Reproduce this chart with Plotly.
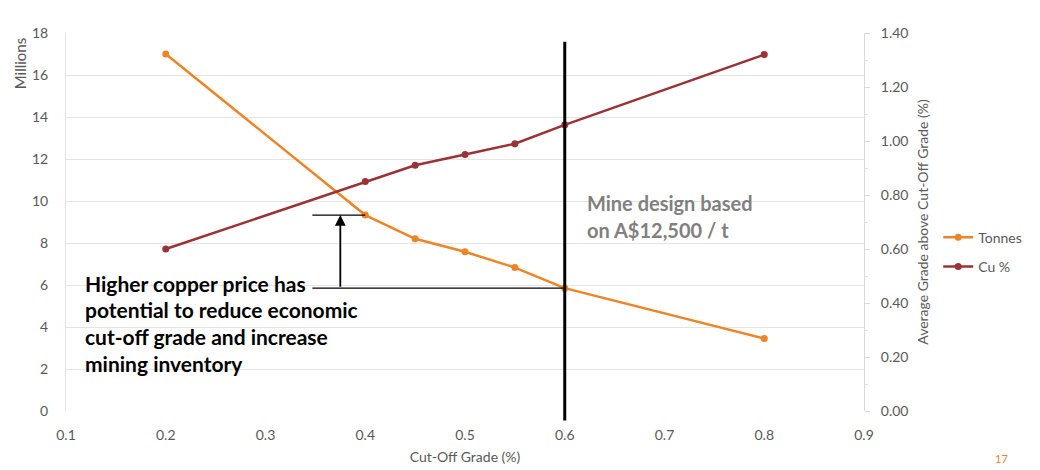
import plotly.graph_objects as go

# Cut-off grade sensitivity
cutoff = [0.2, 0.4, 0.45, 0.5, 0.55, 0.6, 0.8]
tonnes_m = [17.0, 9.33, 8.2, 7.58, 6.83, 5.85, 3.45]
cu_pct = [0.60, 0.85, 0.91, 0.95, 0.99, 1.06, 1.32]

design_cutoff = 0.6
arrow_x = 0.375
bracket_x0 = 0.347

x_ticks = [0.1, 0.2, 0.3, 0.4, 0.5, 0.6, 0.7, 0.8, 0.9]

note_lines = ["Higher copper price has", "potential to reduce economic",
              "cut-off grade and increase", "mining inventory"]
design_lines = ["Mine design based", "on A$12,500 / t"]

ORANGE = "#EE8426"
MAROON = "#9B3236"
TICK = "#595959"
FONT = "Lato"

fig = go.Figure()
fig.add_trace(go.Scatter(
    x=cutoff, y=tonnes_m, name="Tonnes", mode="lines+markers", legendgroup="t",
    line=dict(color=ORANGE, width=2.5), marker=dict(color=ORANGE, size=7),
    yaxis="y"))
fig.add_trace(go.Scatter(
    x=cutoff, y=cu_pct, name="Cu %", mode="lines+markers", legendgroup="c",
    line=dict(color=MAROON, width=2.5), marker=dict(color=MAROON, size=7),
    yaxis="y2"))

t_design = tonnes_m[cutoff.index(design_cutoff)]
t_lower = tonnes_m[cutoff.index(0.4)]

shapes = [
    # mine design cut-off
    dict(type="line", xref="x", yref="paper", x0=design_cutoff, x1=design_cutoff,
         y0=-0.025, y1=0.977, line=dict(color="black", width=3), layer="above"),
    # tonnes at design cut-off
    dict(type="line", xref="x", yref="y", x0=bracket_x0, x1=design_cutoff,
         y0=t_design, y1=t_design, line=dict(color="black", width=1.3)),
    # tonnes at lower cut-off
    dict(type="line", xref="x", yref="y", x0=bracket_x0, x1=0.4,
         y0=t_lower, y1=t_lower, line=dict(color="black", width=1.3)),
]

annotations = [
    dict(x=arrow_x, y=t_lower, ax=arrow_x, ay=t_design, xref="x", yref="y",
         axref="x", ayref="y", showarrow=True, arrowhead=2, arrowsize=1.2,
         arrowwidth=1.8, arrowcolor="black", text=""),
    dict(x=-0.058, y=0.992, xref="paper", yref="paper", xanchor="center",
         yanchor="top", textangle=-90, showarrow=False, text="Millions",
         font=dict(family=FONT, size=15, color=TICK)),
    dict(x=1.0, y=0.0, xref="paper", yref="paper", xanchor="right", yanchor="bottom",
         xshift=146, yshift=-56, showarrow=False, text="17",
         font=dict(family=FONT, size=11, color=ORANGE)),
]

# multi-line callouts, one annotation per line for even spacing
for i, line in enumerate(note_lines):
    annotations.append(dict(
        x=0.021, y=0.338 - i * 0.0705, xref="paper", yref="paper",
        xanchor="left", yanchor="middle", showarrow=False, text=line,
        font=dict(family=FONT, size=21, color="black", weight="bold")))
for i, line in enumerate(design_lines):
    annotations.append(dict(
        x=0.6505, y=0.55 - i * 0.0715, xref="paper", yref="paper",
        xanchor="left", yanchor="middle", showarrow=False, text=line,
        font=dict(family=FONT, size=20, color="#808080", weight="bold")))

fig.update_layout(
    width=1040, height=470,
    margin=dict(l=66, r=176, t=33, b=59),
    paper_bgcolor="white", plot_bgcolor="white",
    font=dict(family=FONT, size=14, color=TICK),
    showlegend=True,
    legend=dict(x=1.093, y=0.42, xanchor="left", yanchor="middle",
                bgcolor="rgba(0,0,0,0)", font=dict(size=14, color=TICK),
                itemwidth=30, tracegroupgap=8),
    xaxis=dict(range=[0.1, 0.9], tickvals=x_ticks, ticktext=[f"{v:.1f}" for v in x_ticks],
               showgrid=False, zeroline=False, showline=False, ticks="",
               ticklabelstandoff=14, automargin=False,
               title=dict(text="Cut-Off Grade (%)", font=dict(size=14, color=TICK), standoff=10)),
    yaxis=dict(range=[0, 18], dtick=2, showgrid=True, gridcolor="#E4E4E4", gridwidth=1,
               zeroline=False, showline=True, linecolor="#E4E4E4", ticks="",
               ticklabelstandoff=14, automargin=False),
    yaxis2=dict(range=[0, 1.4], dtick=0.2, tickformat=".2f", overlaying="y", side="right",
                showgrid=False, zeroline=False, showline=True, linecolor="#D9D9D9",
                ticks="outside", ticklen=5, tickcolor="#D9D9D9", ticklabelstandoff=8,
                automargin=False,
                minor=dict(dtick=0.1, ticks="outside", ticklen=3, tickcolor="#E0E0E0"),
                title=dict(text="Average Grade above Cut-Off Grade (%)",
                           font=dict(size=14, color=TICK), standoff=10)),
    shapes=shapes, annotations=annotations,
)

fig.write_html("out.html")
